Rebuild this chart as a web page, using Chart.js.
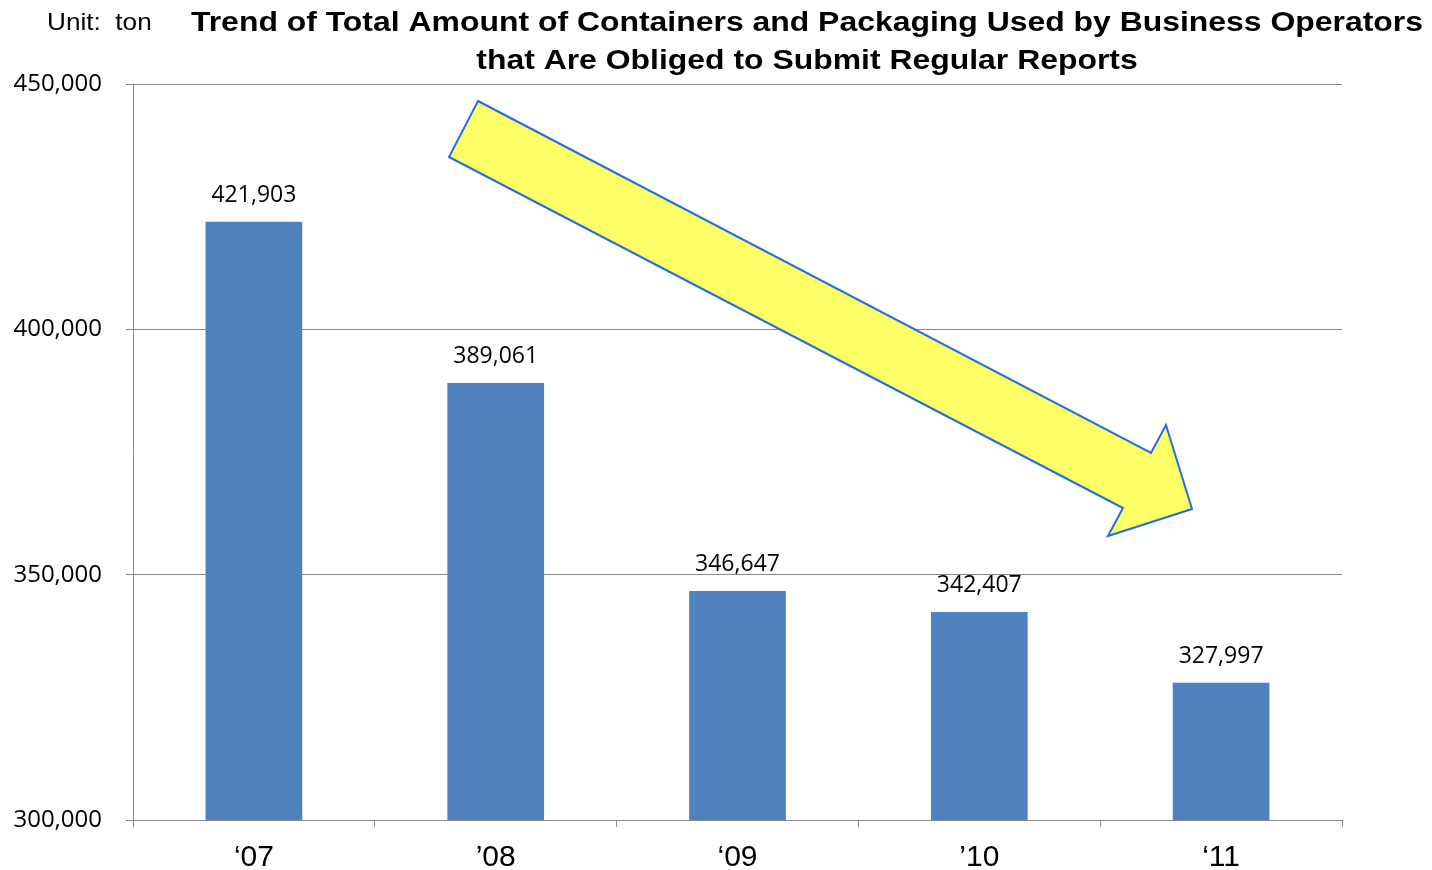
<!DOCTYPE html>
<html>
<head>
<meta charset="utf-8">
<script src="https://cdn.jsdelivr.net/npm/chart.js@4.4.1/dist/chart.umd.min.js"></script>
<style>
  html, body { margin: 0; padding: 0; background: #fff; }
  #wrap { width: 1432px; height: 870px; }
</style>
</head>
<body>
<div id="wrap"><canvas id="chart" width="1432" height="870"></canvas></div>
<script>
const years = ['\u201807', '\u201908', '\u201809', '\u201910', '\u201811'];
const amounts = [421903, 389061, 346647, 342407, 327997];
const titleLines = [
    'Trend of Total Amount of Containers and Packaging Used by Business Operators',
    'that Are Obliged to Submit Regular Reports'
];
const unitLabel = 'Unit:  ton';

// decoration: the yellow trend arrow (canvas pixels)
const arrowPts = [[478, 101], [1151, 453], [1166, 425], [1192, 509], [1108, 536], [1123, 508], [449, 157]];

// text drawn a bit wider than the font, like the original
function wideText(ctx, text, x, y, sx) {
    ctx.save();
    ctx.translate(x, y);
    ctx.scale(sx, 1);
    ctx.fillText(text, 0, 0);
    ctx.restore();
}

const extras = {
    id: 'extras',
    afterDatasetsDraw(chart) {
        const ctx = chart.ctx;
        const meta = chart.getDatasetMeta(0);
        ctx.save();
        ctx.fillStyle = '#000';
        ctx.font = '23px "Open Sans"';
        ctx.textAlign = 'center';
        ctx.textBaseline = 'alphabetic';
        meta.data.forEach((bar, i) => {
            ctx.fillText(amounts[i].toLocaleString('en-US'), bar.x, bar.y - 20);
        });

        // arrow
        ctx.beginPath();
        arrowPts.forEach((p, i) => i ? ctx.lineTo(p[0], p[1]) : ctx.moveTo(p[0], p[1]));
        ctx.closePath();
        ctx.fillStyle = '#FFFF66';
        ctx.fill();
        ctx.strokeStyle = '#1F6FE0';
        ctx.lineWidth = 2;
        ctx.lineJoin = 'miter';
        ctx.stroke();

        // title + unit
        ctx.fillStyle = '#000';
        ctx.textBaseline = 'middle';
        ctx.font = 'bold 28px "Liberation Sans", Arial';
        wideText(ctx, titleLines[0], 807, 23, 1.14);
        wideText(ctx, titleLines[1], 807, 61, 1.14);
        ctx.textAlign = 'left';
        ctx.font = '24px "Liberation Sans", Arial';
        wideText(ctx, unitLabel, 47, 23, 1.09);
        ctx.restore();
    }
};

new Chart(document.getElementById('chart'), {
    type: 'bar',
    data: {
        labels: years,
        datasets: [{
            data: amounts,
            backgroundColor: '#4F81BD',
            barPercentage: 0.4,
            categoryPercentage: 1.0
        }]
    },
    options: {
        responsive: false,
        animation: false,
        layout: { padding: { top: 84, right: 90, left: 0, bottom: 0 } },
        plugins: {
            legend: { display: false },
            title: { display: false },
            tooltip: { enabled: false }
        },
        scales: {
            x: {
                afterFit: s => { s.height = 50; },
                grid: { offset: true, drawOnChartArea: false, tickLength: 7, color: '#888' },
                border: { color: '#888' },
                ticks: {
                    color: '#000',
                    padding: 13,
                    font: { family: '"Liberation Sans", Arial', size: 30 }
                }
            },
            y: {
                min: 300000,
                max: 450000,
                afterFit: s => { s.width = 133; },
                grid: { color: '#888', tickLength: 7 },
                border: { color: '#888' },
                ticks: {
                    stepSize: 50000,
                    color: '#000',
                    padding: 24,
                    font: { family: '"Open Sans"', size: 24 },
                    callback: v => v.toLocaleString('en-US')
                }
            }
        }
    },
    plugins: [extras]
});
</script>
</body>
</html>
